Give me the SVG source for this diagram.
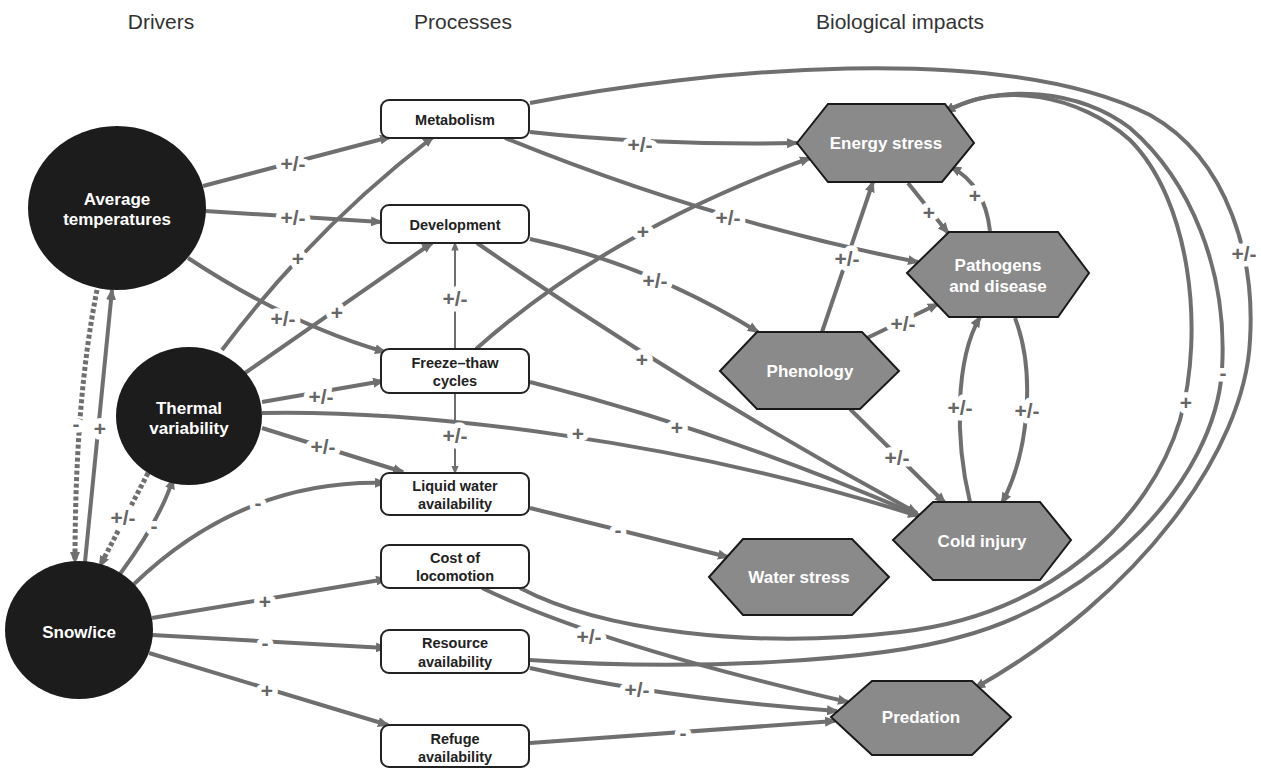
<svg xmlns="http://www.w3.org/2000/svg" width="1261" height="769" viewBox="0 0 1261 769">
<style>
.hdr{font-family:"Liberation Sans",Arial,sans-serif;font-size:21px;fill:#333;text-anchor:middle}
.drv{fill:#1c1c1c}
.drvt{font-family:"Liberation Sans",Arial,sans-serif;font-size:17px;font-weight:bold;fill:#fff;text-anchor:middle}
.box{fill:#fff;stroke:#222;stroke-width:2}
.boxt{font-family:"Liberation Sans",Arial,sans-serif;font-size:14.5px;font-weight:bold;fill:#222;text-anchor:middle}
.hex{fill:#8a8a8a;stroke:#1a1a1a;stroke-width:2}
.hext{font-family:"Liberation Sans",Arial,sans-serif;font-size:17px;font-weight:bold;fill:#fff;text-anchor:middle}
.c{fill:none;stroke:#6f6f6f;stroke-width:4;marker-end:url(#ah)}
.thin{fill:none;stroke:#6f6f6f;stroke-width:2;marker-end:url(#aht)}
.dot{fill:none;stroke:#6f6f6f;stroke-width:5;stroke-dasharray:4 2.5;marker-end:url(#ah)}
.lb{font-family:"Liberation Sans",Arial,sans-serif;font-size:21px;font-weight:bold;fill:#666;text-anchor:middle;stroke:#fff;stroke-width:11;paint-order:stroke;stroke-linejoin:round}
</style>
<defs>
<marker id="ah" viewBox="0 0 12 10" refX="10" refY="5" markerWidth="12" markerHeight="10" markerUnits="userSpaceOnUse" orient="auto"><path d="M0,0 L12,5 L0,10 z" fill="#6f6f6f"/></marker>
<marker id="aht" viewBox="0 0 12 10" refX="10" refY="5" markerWidth="9" markerHeight="7.5" markerUnits="userSpaceOnUse" orient="auto"><path d="M0,0 L12,5 L0,10 z" fill="#6f6f6f"/></marker>
</defs>
<rect width="1261" height="769" fill="#fff"/>
<g id="headers">
<text class="hdr" x="161" y="29">Drivers</text>
<text class="hdr" x="463" y="29">Processes</text>
<text class="hdr" x="900" y="29">Biological impacts</text>
</g>
<g id="connectors">
<path class="c" d="M203,186 L390,137"/>
<path class="c" d="M205,211 L381,222"/>
<path class="c" d="M188,258 Q290,325 385,352"/>
<path class="c" d="M222,350 Q313,229 433,137"/>
<path class="c" d="M245,373 L432,243"/>
<path class="c" d="M262,402 L383,381"/>
<path class="c" d="M262,413 C420,410 680,440 918,516"/>
<path class="c" d="M262,428 L403,472"/>
<path class="c" d="M85,562 L112,290"/>
<path class="dot" d="M97,290 Q75,400 75,562"/>
<path class="dot" d="M148,473 L100,566"/>
<path class="c" d="M120,574 Q160,520 173,479"/>
<path class="c" d="M133,585 C190,530 270,480 385,483"/>
<path class="c" d="M152,618 L386,579"/>
<path class="c" d="M152,635 L386,648"/>
<path class="c" d="M149,653 L388,725"/>
<path class="c" d="M530,132 C600,140 700,145 797,143"/>
<path class="c" d="M505,138 Q712,222 918,262"/>
<path class="c" d="M530,103 C700,70 1000,40 1150,115 C1230,160 1255,260 1250,340 C1245,450 1140,595 975,688"/>
<path class="c" d="M530,239 Q650,265 758,332"/>
<path class="c" d="M477,243 Q690,390 917,513"/>
<path class="c" d="M530,382 Q720,430 920,516"/>
<path class="c" d="M476,349 Q610,230 810,158"/>
<path class="thin" d="M455,349 L455,243"/>
<path class="thin" d="M455,393 L455,473"/>
<path class="c" d="M530,508 L728,557"/>
<path class="c" d="M482,588 Q600,645 848,702"/>
<path class="c" d="M530,668 Q660,698 837,711"/>
<path class="c" d="M530,743 L835,721"/>
<path class="c" d="M530,660 C700,672 880,660 960,637 C1100,600 1215,480 1222,370 C1228,270 1190,180 1130,128 C1080,90 1000,82 945,112"/>
<path class="c" d="M520,588 C600,630 750,650 900,632 C1050,615 1150,520 1180,420 C1205,330 1190,200 1130,140 C1080,95 1000,80 945,112"/>
<path class="c" d="M822,332 L873,182"/>
<path class="c" d="M867,338 L938,304"/>
<path class="c" d="M908,183 L948,233"/>
<path class="c" d="M990,231 Q985,185 951,167"/>
<path class="c" d="M970,502 C955,440 955,360 980,317"/>
<path class="c" d="M1015,318 C1035,370 1030,450 1002,503"/>
<path class="c" d="M850,409 L945,503"/>
</g>
<g id="labels">
<text class="lb" x="293" y="171">+/-</text>
<text class="lb" x="293" y="225">+/-</text>
<text class="lb" x="283" y="326">+/-</text>
<text class="lb" x="298" y="266">+</text>
<text class="lb" x="337" y="320">+</text>
<text class="lb" x="321" y="404">+/-</text>
<text class="lb" x="578" y="441">+</text>
<text class="lb" x="323" y="454">+/-</text>
<text class="lb" x="100" y="436">+</text>
<text class="lb" x="76" y="431">-</text>
<text class="lb" x="123" y="525">+/-</text>
<text class="lb" x="154" y="533">-</text>
<text class="lb" x="258" y="510">-</text>
<text class="lb" x="265" y="609">+</text>
<text class="lb" x="265" y="650">-</text>
<text class="lb" x="267" y="698">+</text>
<text class="lb" x="640" y="152">+/-</text>
<text class="lb" x="728" y="225">+/-</text>
<text class="lb" x="1244" y="261">+/-</text>
<text class="lb" x="655" y="288">+/-</text>
<text class="lb" x="642" y="367">+</text>
<text class="lb" x="677" y="435">+</text>
<text class="lb" x="643" y="239">+</text>
<text class="lb" x="455" y="306">+/-</text>
<text class="lb" x="455" y="443">+/-</text>
<text class="lb" x="618" y="537">-</text>
<text class="lb" x="589" y="644">+/-</text>
<text class="lb" x="637" y="697">+/-</text>
<text class="lb" x="683" y="740">-</text>
<text class="lb" x="1223" y="380">-</text>
<text class="lb" x="1186" y="410">+</text>
<text class="lb" x="847" y="266">+/-</text>
<text class="lb" x="903" y="331">+/-</text>
<text class="lb" x="929" y="220">+</text>
<text class="lb" x="975" y="203">+</text>
<text class="lb" x="960" y="415">+/-</text>
<text class="lb" x="1027" y="418">+/-</text>
<text class="lb" x="897" y="465">+/-</text>
</g>
<g id="node-average-temperatures">
<ellipse class="drv" cx="117" cy="208" rx="89" ry="82"/>
<text class="drvt" x="117" y="205">Average</text>
<text class="drvt" x="117" y="225">temperatures</text>
</g>
<g id="node-thermal-variability">
<ellipse class="drv" cx="189" cy="416" rx="73" ry="69"/>
<text class="drvt" x="189" y="414">Thermal</text>
<text class="drvt" x="189" y="434">variability</text>
</g>
<g id="node-snow-ice">
<ellipse class="drv" cx="79" cy="630" rx="74" ry="69"/>
<text class="drvt" x="79" y="638">Snow/ice</text>
</g>
<g id="node-metabolism">
<rect class="box" x="381" y="100" width="148" height="38" rx="8"/>
<text class="boxt" x="455" y="125">Metabolism</text>
</g>
<g id="node-development">
<rect class="box" x="381" y="205" width="148" height="38" rx="8"/>
<text class="boxt" x="455" y="230">Development</text>
</g>
<g id="node-freeze-thaw">
<rect class="box" x="381" y="349" width="148" height="44" rx="8"/>
<text class="boxt" x="455" y="368">Freeze–thaw</text>
<text class="boxt" x="455" y="386">cycles</text>
</g>
<g id="node-liquid-water">
<rect class="box" x="381" y="473" width="148" height="42" rx="8"/>
<text class="boxt" x="455" y="491">Liquid water</text>
<text class="boxt" x="455" y="509">availability</text>
</g>
<g id="node-cost-locomotion">
<rect class="box" x="381" y="545" width="148" height="43" rx="8"/>
<text class="boxt" x="455" y="563">Cost of</text>
<text class="boxt" x="455" y="581">locomotion</text>
</g>
<g id="node-resource">
<rect class="box" x="381" y="630" width="148" height="43" rx="8"/>
<text class="boxt" x="455" y="648">Resource</text>
<text class="boxt" x="455" y="667">availability</text>
</g>
<g id="node-refuge">
<rect class="box" x="381" y="725" width="148" height="42" rx="8"/>
<text class="boxt" x="455" y="744">Refuge</text>
<text class="boxt" x="455" y="762">availability</text>
</g>
<g id="node-energy-stress">
<polygon class="hex" points="797,143 828,104 945,104 974,143 942,182 828,182"/>
<text class="hext" x="886" y="149">Energy stress</text>
</g>
<g id="node-pathogens">
<polygon class="hex" points="907,273 949,232 1058,232 1089,273 1058,317 949,317"/>
<text class="hext" x="998" y="271">Pathogens</text>
<text class="hext" x="998" y="292">and disease</text>
</g>
<g id="node-phenology">
<polygon class="hex" points="720,371 757,332 862,332 899,371 860,409 757,409"/>
<text class="hext" x="810" y="377">Phenology</text>
</g>
<g id="node-cold-injury">
<polygon class="hex" points="893,540 933,502 1040,502 1071,540 1040,580 933,580"/>
<text class="hext" x="982" y="547">Cold injury</text>
</g>
<g id="node-water-stress">
<polygon class="hex" points="709,577 743,539 852,539 889,577 852,615 743,615"/>
<text class="hext" x="799" y="583">Water stress</text>
</g>
<g id="node-predation">
<polygon class="hex" points="831,717 872,681 972,681 1011,717 972,755 872,755"/>
<text class="hext" x="921" y="723">Predation</text>
</g>
</svg>
